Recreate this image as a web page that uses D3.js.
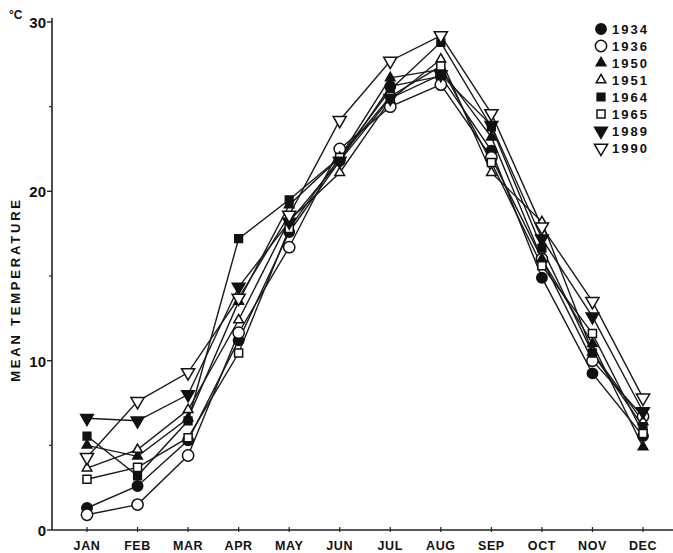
<!DOCTYPE html>
<html>
<head>
<meta charset="utf-8">
<script src="https://cdn.jsdelivr.net/npm/d3@7"></script>
<style>
  body { margin: 0; background: white; }
  text { font-family: "Liberation Sans", Arial, sans-serif; font-weight: bold; fill: #111; }
</style>
</head>
<body>
<svg id="chart_svg" width="673" height="553"></svg>
<script>
var months = ['JAN', 'FEB', 'MAR', 'APR', 'MAY', 'JUN', 'JUL', 'AUG', 'SEP', 'OCT', 'NOV', 'DEC'];
var years = ['1934', '1936', '1950', '1951', '1964', '1965', '1989', '1990'];

var t1934 = [1.3, 2.6, 5.3, 11.2, 17.6, 21.8, 26.2, 26.8, 22.4, 14.9, 9.25, 5.55];
var t1936 = [0.9, 1.5, 4.4, 11.65, 16.7, 22.5, 25.0, 26.3, 22.0, 16.0, 10.0, 6.7];
var t1950 = [5.0, 4.35, 6.6, 13.5, 19.2, 22.0, 26.7, 27.2, 23.2, 16.0, 11.0, 4.9];
var t1951 = [3.65, 4.75, 7.1, 12.4, 18.3, 21.1, 25.4, 27.8, 21.1, 18.2, 10.5, 6.4];
var t1964 = [5.55, 3.2, 6.45, 17.2, 19.5, 22.0, 26.0, 28.8, 23.8, 16.65, 10.45, 6.1];
var t1965 = [3.0, 3.7, 5.45, 10.45, 17.8, 22.0, 25.6, 27.4, 21.7, 15.6, 11.6, 5.7];
var t1989 = [6.6, 6.45, 8.0, 14.35, 18.2, 21.8, 25.5, 26.9, 23.9, 17.2, 12.6, 7.0];
var t1990 = [4.3, 7.6, 9.3, 13.7, 18.6, 24.2, 27.7, 29.2, 24.6, 17.9, 13.5, 7.8];

var yTicks = [0, 10, 20, 30];
var yMinorTicks = [5, 15, 25];

function createChart(){
  var svg = d3.select('#chart_svg');

  var x = d3.scalePoint().domain(months).range([87, 643]);
  var y = d3.scaleLinear().domain([0, 30]).range([530, 22]);
  var axisX = 52;

  /* symbols for each year: shape, filled, rotation */
  var marks = {
    '1934': { type: d3.symbolCircle, size: 85, fill: true, rot: 0 },
    '1936': { type: d3.symbolCircle, size: 100, fill: false, rot: 0 },
    '1950': { type: d3.symbolTriangle, size: 40, fill: true, rot: 0 },
    '1951': { type: d3.symbolTriangle, size: 40, fill: false, rot: 0 },
    '1964': { type: d3.symbolSquare, size: 60, fill: true, rot: 0 },
    '1965': { type: d3.symbolSquare, size: 65, fill: false, rot: 0 },
    '1989': { type: d3.symbolTriangle, size: 70, fill: true, rot: 180 },
    '1990': { type: d3.symbolTriangle, size: 75, fill: false, rot: 180 }
  };
  var series = [t1934, t1936, t1950, t1951, t1964, t1965, t1989, t1990];

  /* Axes */
  svg.append('line')
    .attr('x1', axisX).attr('x2', axisX).attr('y1', y(30) - 4).attr('y2', y(0))
    .style('stroke', '#222').style('stroke-width', 1.6);
  svg.append('line')
    .attr('x1', axisX).attr('x2', 673).attr('y1', y(0)).attr('y2', y(0))
    .style('stroke', '#222').style('stroke-width', 1.6);

  svg.selectAll('.ytick').data(yTicks).enter().append('line')
    .attr('x1', axisX - 5).attr('x2', axisX).attr('y1', d => y(d)).attr('y2', d => y(d))
    .style('stroke', '#222').style('stroke-width', 1.4);
  svg.selectAll('.yminor').data(yMinorTicks).enter().append('line')
    .attr('x1', axisX - 3).attr('x2', axisX).attr('y1', d => y(d)).attr('y2', d => y(d))
    .style('stroke', '#222').style('stroke-width', 1.2);
  svg.selectAll('.ylabel').data(yTicks).enter().append('text')
    .attr('x', axisX - 6).attr('y', d => y(d) + 6)
    .style('text-anchor', 'end').style('font-size', '15px')
    .text(d => d);
  svg.append('text').attr('x', 9).attr('y', 19).style('font-size', '12px').text('°C');

  svg.selectAll('.xtick').data(months).enter().append('line')
    .attr('x1', d => x(d)).attr('x2', d => x(d)).attr('y1', y(0) - 3).attr('y2', y(0) + 2)
    .style('stroke', '#222').style('stroke-width', 1.2);
  svg.selectAll('.xlabel').data(months).enter().append('text')
    .attr('x', d => x(d)).attr('y', 550)
    .style('text-anchor', 'middle').style('font-size', '12.5px').style('letter-spacing', '0.6px')
    .text(d => d);

  svg.append('text')
    .attr('transform', 'translate(20,' + y(14.2) + ') rotate(-90)')
    .style('text-anchor', 'middle').style('font-size', '13px').style('letter-spacing', '2.8px')
    .text('MEAN TEMPERATURE');

  /* Lines */
  var line = d3.line().x((d, i) => x(months[i])).y(d => y(d));
  series.forEach(s => {
    svg.append('path').attr('d', line(s))
      .style('fill', 'none').style('stroke', '#1a1a1a').style('stroke-width', 1.4);
  });

  /* Markers */
  function drawMark(g, yr, cx, cy){
    var m = marks[yr];
    g.append('path')
      .attr('d', d3.symbol().type(m.type).size(m.size)())
      .attr('transform', 'translate(' + cx + ',' + cy + ') rotate(' + m.rot + ')')
      .style('fill', m.fill ? '#111' : 'white')
      .style('stroke', '#111').style('stroke-width', 1.5);
  }
  series.forEach((s, k) => {
    s.forEach((v, i) => { drawMark(svg, years[k], x(months[i]), y(v)); });
  });

  /* Legend */
  years.forEach((yr, k) => {
    var ly = 29 + k * 17;
    drawMark(svg, yr, 601, ly);
    svg.append('text').attr('x', 612).attr('y', ly + 5)
      .style('font-size', '13px').style('letter-spacing', '2px').text(yr);
  });
}
createChart();
</script>
</body>
</html>
